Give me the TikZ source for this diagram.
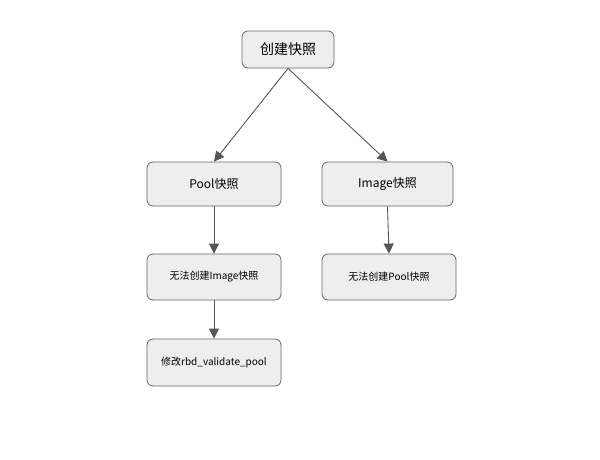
\documentclass[tikz,border=0pt]{standalone}
\usepackage{fontspec}
\setmainfont{Noto Sans CJK SC}
\usepackage{tikz}
\usetikzlibrary{arrows.meta}
\definecolor{boxfill}{HTML}{EEEEEE}
\definecolor{boxline}{HTML}{666666}
\definecolor{arrline}{HTML}{555555}

\begin{document}
\begin{tikzpicture}[x=1pt, y=-1pt, >={Triangle[length=10pt,width=10pt]}, snap/.style={draw=boxline, fill=boxfill, rounded corners=6pt, line width=0.8pt, inner sep=0pt}, link/.style={->, draw=arrline, line width=0.9pt}]
	\useasboundingbox (0,0) rectangle (600,460);
	\node[snap, minimum width=92pt, minimum height=37pt, font=\fontsize{14}{16}\selectfont] (root) at (288,49.5) {创建快照};
	\node[snap, minimum width=134pt, minimum height=44pt, font=\fontsize{12}{14}\selectfont] (pool) at (214,184) {Pool快照};
	\node[snap, minimum width=131pt, minimum height=44pt, font=\fontsize{12}{14}\selectfont] (img) at (387.5,184) {Image快照};
	\draw[link] (root.south) -- (pool.north);
	\draw[link] (root.south) -- (img.north);
	\node[snap, minimum width=134pt, minimum height=46pt, font=\fontsize{10}{12}\selectfont] (noimg) at (214,277) {无法创建Image快照};
	\node[snap, minimum width=134pt, minimum height=46pt, font=\fontsize{10}{12}\selectfont] (nopool) at (389,277) {无法创建Pool快照};
	\node[snap, minimum width=134pt, minimum height=47pt, font=\fontsize{10}{12}\selectfont] (fix) at (214,362.5) {修改rbd\_validate\_pool};
	\draw[link] (pool) -- (noimg);
	\draw[link] (img.south) -- (nopool.north);
	\draw[link] (noimg) -- (fix);
	
\end{tikzpicture}
\end{document}
